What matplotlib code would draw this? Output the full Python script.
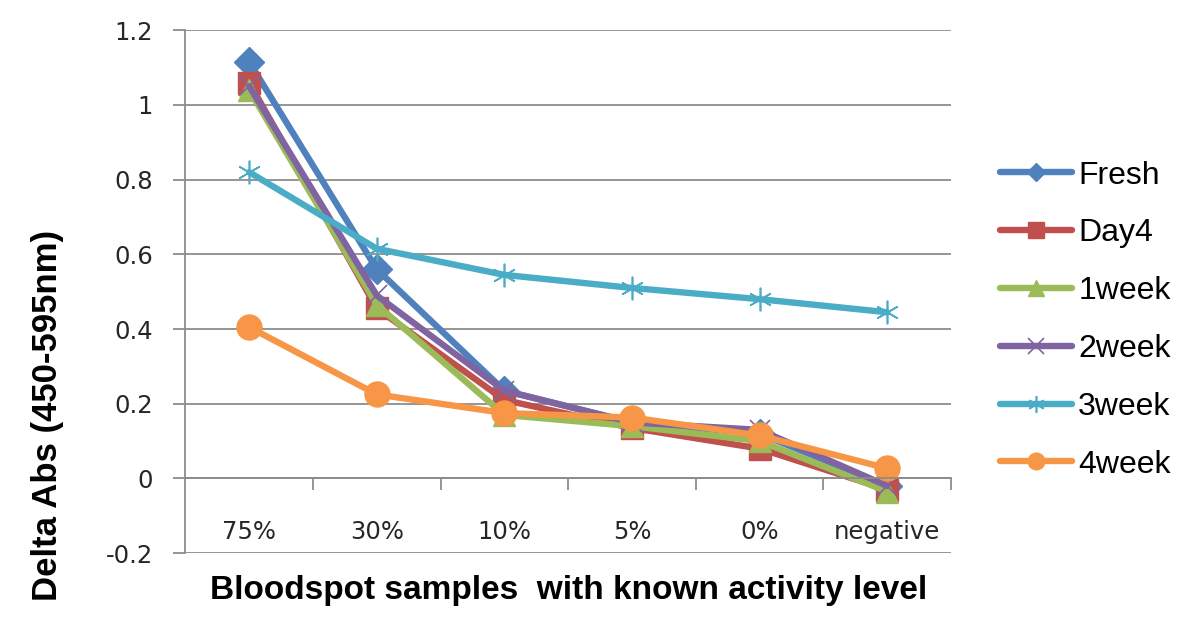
import matplotlib
matplotlib.use("Agg")
import matplotlib.pyplot as plt
from matplotlib.ticker import FixedLocator

categories = ["75%", "30%", "10%", "5%", "0%", "negative"]
series_names = ["Fresh", "Day4", "1week", "2week", "3week", "4week"]
fresh = [1.115, 0.56, 0.235, 0.15, 0.12, -0.02]
day4 = [1.06, 0.455, 0.21, 0.135, 0.08, -0.03]
week1 = [1.04, 0.465, 0.17, 0.14, 0.10, -0.035]
week2 = [1.05, 0.49, 0.235, 0.15, 0.13, -0.02]
week3 = [0.82, 0.615, 0.545, 0.51, 0.48, 0.445]
week4 = [0.405, 0.225, 0.175, 0.163, 0.115, 0.027]
values = [fresh, day4, week1, week2, week3, week4]
yticks = [-0.2, 0, 0.2, 0.4, 0.6, 0.8, 1, 1.2]
ytick_labels = ["-0.2", "0", "0.2", "0.4", "0.6", "0.8", "1", "1.2"]

colors = ["#4F81BD", "#C0504D", "#9BBB59", "#8064A2", "#4BACC6", "#F79646"]
markers = ["D", "s", "^", "x", (6, 2, 0), "o"]
msizes = [15, 16.5, 16.5, 15, 17, 18]
leg_msizes = [9, 12, 11, 12, 12, 12]
mews = [1, 1, 1, 1.2, 1.2, 1]

fig = plt.figure(figsize=(12, 6.3), dpi=100)
ax = fig.add_axes([0.1545, 0.122, 0.638, 0.83])

x = list(range(len(categories)))
for name, vals, c, m, ms, mew in zip(series_names, values, colors, markers, msizes, mews):
    ax.plot(x, vals, color=c, lw=4.6, marker=m, markersize=ms,
            markeredgewidth=mew, markeredgecolor=c, markerfacecolor=c,
            label=name, solid_capstyle="round", solid_joinstyle="round")

ax.set_xlim(-0.5, len(categories) - 0.5)
ax.set_ylim(-0.2, 1.2)
ax.set_yticks(yticks)
ax.set_yticklabels(ytick_labels)
ax.yaxis.grid(True, color="#8C8C8C", lw=1.3)
ax.set_axisbelow(True)

for s in ["top", "right"]:
    ax.spines[s].set_visible(False)
ax.spines["left"].set_color("#8C8C8C")
ax.spines["left"].set_linewidth(1.3)
ax.spines["bottom"].set_position(("data", 0))
ax.spines["bottom"].set_color("#8C8C8C")
ax.spines["bottom"].set_linewidth(1.3)

ax.xaxis.set_major_locator(FixedLocator(x))
ax.set_xticklabels(categories)
ax.xaxis.set_minor_locator(FixedLocator([i + 0.5 for i in x]))
ax.tick_params(axis="x", which="major", length=0, pad=30, labelsize=17.5, labelcolor="#262626")
ax.tick_params(axis="x", which="minor", length=8.5, width=1.3, color="#8C8C8C", direction="out")
ax.tick_params(axis="y", length=8.5, width=1.3, color="#8C8C8C", direction="out", pad=15,
               labelsize=17.5, labelcolor="#262626")
for lab in ax.get_xticklabels() + ax.get_yticklabels():
    lab.set_fontfamily("DejaVu Sans")

ax.set_xlabel("Bloodspot samples  with known activity level", fontsize=24,
              fontweight="bold", family="Liberation Sans")
ax.xaxis.set_label_coords(0.5, -0.042)
ax.set_ylabel("Delta Abs (450-595nm)", fontsize=25, fontweight="bold",
              family="Liberation Sans")
ax.yaxis.set_label_coords(-0.158, 0.264)

leg = ax.legend(loc="center left", bbox_to_anchor=(1000 / 1200, 0.492),
                bbox_transform=fig.transFigure, frameon=False,
                prop={"family": "Liberation Sans", "size": 23}, labelspacing=0.87,
                handlelength=2.25, handletextpad=0.2, borderpad=0, borderaxespad=0)
for h, s in zip(leg.legend_handles, leg_msizes):
    h.set_markersize(s)

fig.savefig("out.png", dpi=100)
